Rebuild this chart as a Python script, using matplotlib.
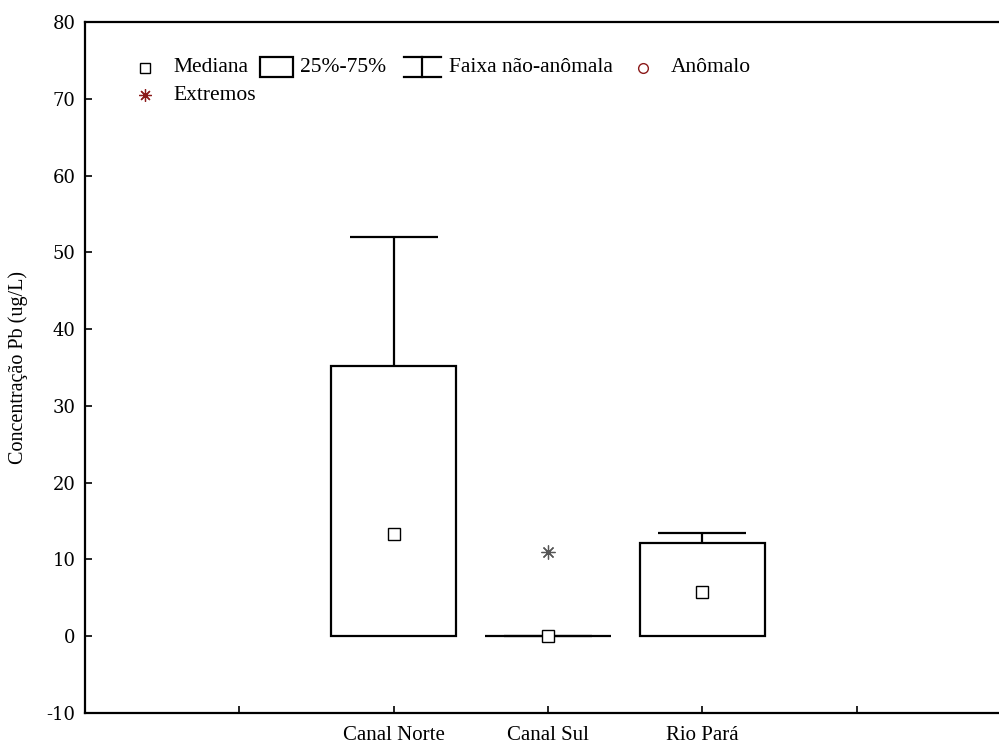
import numpy as np
import matplotlib
matplotlib.use('Agg')
import matplotlib.pyplot as plt
from matplotlib.patches import Rectangle
from matplotlib.lines import Line2D

# Data (Pb concentration, ug/L)
categories = ['Canal Norte', 'Canal Sul', 'Rio Pará']
q25 = [0.0, 0.0, 0.0]
q75 = [35.2, 0.0, 12.2]
medians = [13.3, 0.0, 5.8]
whisk_hi = [52.0, 0.0, 13.4]
extreme_cat = ['Canal Sul']
extreme_val = [11.0]

yticks = [-10, 0, 10, 20, 30, 40, 50, 60, 70, 80]
dark_red = '#8b1a1a'
serif = 'Liberation Serif'

fig = plt.figure(figsize=(9.99, 7.46), dpi=100)
# axes run past the right edge, as in the original export
ax = fig.add_axes([85 / 999, 33 / 746, 926 / 999, 691 / 746])

pos = np.arange(len(categories)) + 2
box_w = 0.81
cap_w = 0.57

# boxes (25%-75%)
ax.bar(pos, np.array(q75) - np.array(q25), bottom=q25, width=box_w,
       facecolor='white', edgecolor='black', linewidth=1.6, zorder=2)

# whiskers (faixa nao-anomala)
ax.vlines(pos, q75, whisk_hi, color='black', linewidth=1.6, zorder=1)
ax.hlines(whisk_hi, pos - cap_w / 2, pos + cap_w / 2, color='black',
          linewidth=1.6, zorder=1)

# medians
ax.plot(pos, medians, linestyle='none', marker='s', markersize=8,
        markerfacecolor='white', markeredgecolor='black',
        markeredgewidth=1.0, zorder=3)

# extremes
ext_pos = [pos[categories.index(c)] for c in extreme_cat]
ax.plot(ext_pos, extreme_val, linestyle='none', marker=(8, 2, 0),
        markersize=10, color='#555555', markeredgewidth=0.9, zorder=3)

ax.set_xlim(0, 6)
ax.set_ylim(-10, 80)
ax.set_xticks([1, 2, 3, 4, 5])
ax.set_xticklabels(['', 'Canal Norte', 'Canal Sul', 'Rio Pará', ''],
                   fontfamily=serif, fontsize=15)
ax.set_yticks(yticks)
ax.set_yticklabels([str(v) for v in yticks], fontfamily='DejaVu Serif',
                   fontsize=13)
ax.tick_params(axis='both', direction='in', length=5, width=1.2)
ax.tick_params(axis='x', pad=9)
ax.tick_params(axis='y', pad=7)
for s in ax.spines.values():
    s.set_linewidth(1.6)

fig.text(18 / 999, 1 - 368 / 746, 'Concentração Pb (ug/L)', rotation=90,
         ha='center', va='center', fontfamily=serif, fontsize=14.5)

# hand-built legend, in axes fraction
def fx(px):
    return (px - 85) / 926

def fy(py):
    return (713 - py) / 691

tr = ax.transAxes
row1, row2 = fy(68), fy(95)
kw = dict(transform=tr, fontfamily=serif, fontsize=15.5, va='center')

ax.plot([fx(145)], [row1], transform=tr, marker='s', markersize=7.5,
        markerfacecolor='white', markeredgecolor='black', markeredgewidth=1.0,
        clip_on=False)
ax.text(fx(173), row1, 'Mediana', **kw)

ax.add_patch(Rectangle((fx(260), fy(77)), fx(293) - fx(260), fy(57) - fy(77),
                       transform=tr, facecolor='white', edgecolor='black',
                       linewidth=1.6, clip_on=False))
ax.text(fx(300), row1, '25%-75%', **kw)

for yy in (57, 77):
    ax.add_line(Line2D([fx(404), fx(441)], [fy(yy), fy(yy)], transform=tr,
                       color='black', linewidth=1.6))
ax.add_line(Line2D([fx(422), fx(422)], [fy(57), fy(77)], transform=tr,
                   color='black', linewidth=1.6))
ax.text(fx(449), row1, 'Faixa não-anômala', **kw)

ax.plot([fx(643)], [row1], transform=tr, marker='o', markersize=7,
        markerfacecolor='none', markeredgecolor=dark_red, markeredgewidth=1.0)
ax.text(fx(671), row1, 'Anômalo', **kw)

ax.plot([fx(145)], [row2], transform=tr, marker=(8, 2, 0), markersize=9,
        color=dark_red, markeredgewidth=0.9)
ax.text(fx(173), row2, 'Extremos', **kw)

fig.savefig('out.png', dpi=100)
